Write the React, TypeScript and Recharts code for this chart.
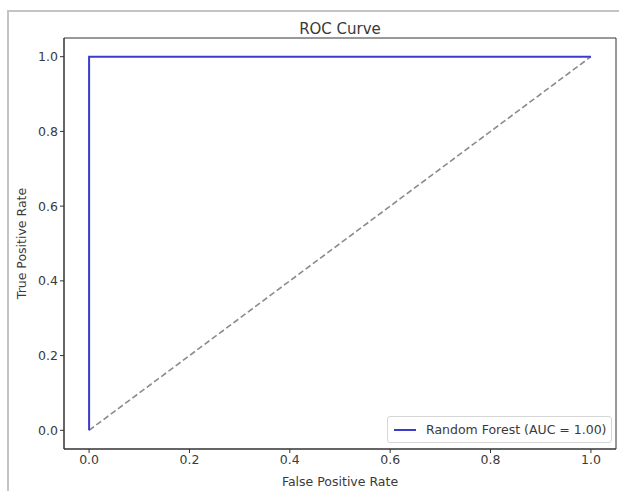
import React from "react";
import {
  LineChart,
  Line,
  XAxis,
  YAxis,
  ReferenceArea,
} from "recharts";

// ROC points for the model
const fpr = [0, 0, 1];
const tpr = [0, 1, 1];

// chance line
const chanceX = [0, 1];
const chanceY = [0, 1];

const axisTicks = [0, 0.2, 0.4, 0.6, 0.8, 1.0];

const chartTitle = "ROC Curve";
const xLabel = "False Positive Rate";
const yLabel = "True Positive Rate";
const legendLabel = "Random Forest (AUC = 1.00)";

const rocData = fpr.map((x, i) => ({ x, y: tpr[i] }));
const chanceData = chanceX.map((x, i) => ({ x, y: chanceY[i] }));

const FONT = "'DejaVu Sans', sans-serif";
const TEXT = "#3a3a3a";
const LINE_BLUE = "#3c3cc8";

export default function App() {
  return (
    <div
      style={{
        position: "absolute",
        left: 0,
        top: 0,
        width: 619,
        height: 491,
        background: "#fff",
        fontFamily: FONT,
        overflow: "hidden",
      }}
    >
      {/* outer frame */}
      <div
        style={{
          position: "absolute",
          left: 7,
          top: 10,
          width: 619,
          height: 491,
          borderLeft: "2px solid #c4c4c4",
          borderTop: "2px solid #c4c4c4",
        }}
      />
      <div
        style={{
          position: "absolute",
          left: 64,
          width: 552,
          top: 20,
          textAlign: "center",
          fontSize: 15,
          color: TEXT,
        }}
      >
        {chartTitle}
      </div>
      <div style={{ position: "absolute", left: 0, top: 0 }}>
        <LineChart
          width={619}
          height={491}
          margin={{ top: 38, right: 3, bottom: 0, left: 0 }}
        >
          <XAxis
            type="number"
            dataKey="x"
            domain={[-0.05, 1.05]}
            ticks={axisTicks}
            allowDataOverflow
            tickFormatter={(v: number) => v.toFixed(1)}
            height={42}
            tickSize={4}
            stroke="#333"
            tick={{ fill: TEXT, fontSize: 12.5, fontFamily: FONT }}
            label={{
              value: xLabel,
              position: "insideBottom",
              offset: 5,
              fill: TEXT,
              fontSize: 12.5,
              fontFamily: FONT,
            }}
          />
          <YAxis
            type="number"
            dataKey="y"
            domain={[-0.05, 1.05]}
            ticks={axisTicks}
            allowDataOverflow
            tickFormatter={(v: number) => v.toFixed(1)}
            width={64}
            tickSize={4}
            stroke="#333"
            tick={{ fill: TEXT, fontSize: 12.5, fontFamily: FONT }}
            label={{
              value: yLabel,
              angle: -90,
              position: "insideLeft",
              offset: 22,
              style: { textAnchor: "middle" },
              fill: TEXT,
              fontSize: 12.5,
              fontFamily: FONT,
            }}
          />
          <ReferenceArea
            x1={-0.05}
            x2={1.05}
            y1={-0.05}
            y2={1.05}
            fill="none"
            fillOpacity={0}
            stroke="#333"
            strokeWidth={1}
            ifOverflow="visible"
          />
          <Line
            data={chanceData}
            dataKey="y"
            type="linear"
            stroke="#8c8c8c"
            strokeWidth={1.6}
            strokeDasharray="6 3"
            dot={false}
            isAnimationActive={false}
          />
          <Line
            data={rocData}
            dataKey="y"
            type="linear"
            stroke={LINE_BLUE}
            strokeWidth={2}
            dot={false}
            isAnimationActive={false}
          />
        </LineChart>
      </div>
      {/* legend */}
      <div
        style={{
          position: "absolute",
          left: 387,
          top: 416,
          width: 225,
          height: 27,
          boxSizing: "border-box",
          border: "1px solid #d6d6d6",
          borderRadius: 3,
          background: "rgba(255,255,255,0.8)",
          display: "flex",
          alignItems: "center",
        }}
      >
        <span
          style={{
            display: "inline-block",
            width: 22,
            height: 2,
            marginLeft: 6,
            background: LINE_BLUE,
          }}
        />
        <span
          style={{
            marginLeft: 10,
            fontSize: 12.5,
            color: TEXT,
            whiteSpace: "nowrap",
          }}
        >
          {legendLabel}
        </span>
      </div>
    </div>
  );
}
